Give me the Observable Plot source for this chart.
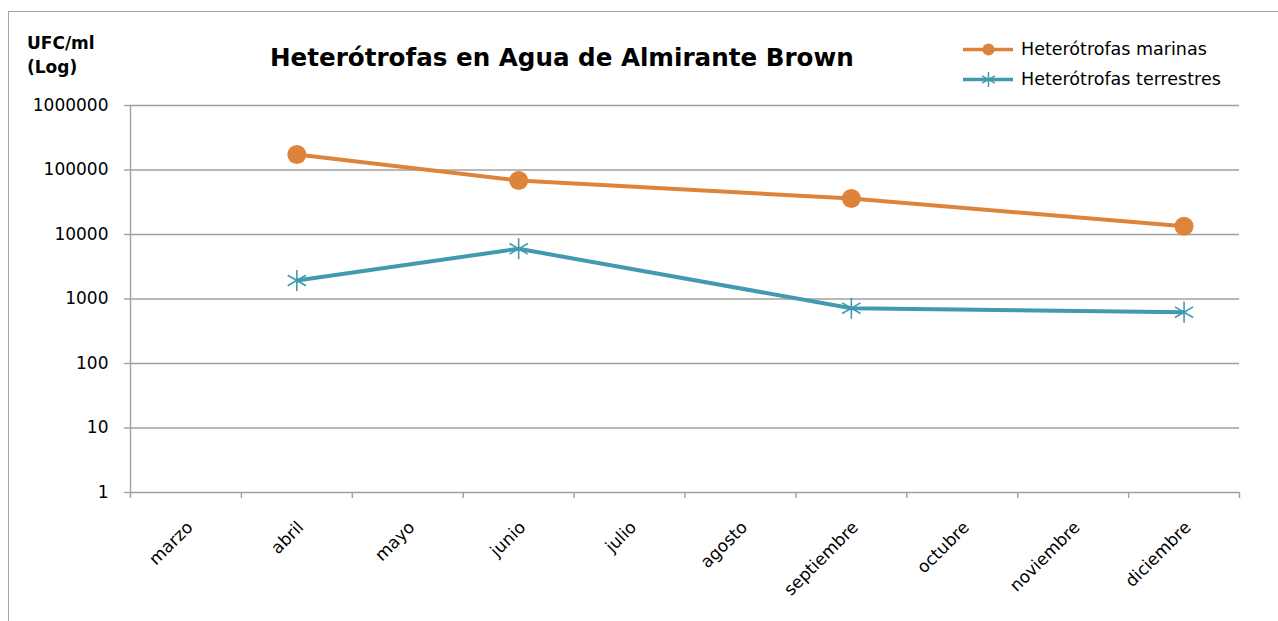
<!DOCTYPE html>
<html>
<head>
<meta charset="utf-8">
<script src="https://cdn.jsdelivr.net/npm/d3@7"></script>
<script src="https://cdn.jsdelivr.net/npm/@observablehq/plot@0.6"></script>
<style>
  html, body { margin: 0; padding: 0; background: #fff; }
  body { width: 1278px; height: 621px; overflow: hidden; position: relative; font-family: "DejaVu Sans", sans-serif; }
  #frame { position: absolute; left: 8px; top: 11px; width: 1300px; height: 700px; border-left: 1.5px solid #a6a6a6; border-top: 1.5px solid #a6a6a6; }
  #header { position: relative; height: 95px; }
  #title { position: absolute; left: 270px; top: 46px; font-size: 24.6px; font-weight: bold; white-space: nowrap; line-height: 1; color: #000; }
  #ylabel { position: absolute; left: 27px; top: 31px; font-size: 17px; font-weight: bold; line-height: 24px; color: #000; }
  #legend { position: absolute; left: 963px; top: 34px; font-size: 17.5px; color: #000; }
  .item { display: flex; align-items: center; height: 30px; white-space: nowrap; }
  .item svg { margin-right: 8px; }
  #chart { position: relative; }
</style>
</head>
<body>
<div id="frame"></div>
<div id="header">
  <div id="ylabel">UFC/ml<br>(Log)</div>
  <div id="title">Heterótrofas en Agua de Almirante Brown</div>
  <div id="legend"></div>
</div>
<div id="chart"></div>
<script>
const months = ["marzo", "abril", "mayo", "junio", "julio", "agosto", "septiembre", "octubre", "noviembre", "diciembre"];
const sampleMonths = ["abril", "junio", "septiembre", "diciembre"];
const marinasValues = [174000, 68700, 36200, 13400];
const terrestresValues = [1935, 6000, 720, 625];
const yTicks = [1, 10, 100, 1000, 10000, 100000, 1000000];
const seriesNames = ["Heterótrofas marinas", "Heterótrofas terrestres"];
const seriesColors = ["#dd843a", "#4299b0"];

const marinas = sampleMonths.map((m, i) => ({month: m, idx: months.indexOf(m), value: marinasValues[i]}));
const terrestres = sampleMonths.map((m, i) => ({month: m, idx: months.indexOf(m), value: terrestresValues[i]}));
const xDomain = [-0.5, months.length - 0.5];
const boundaries = d3.range(months.length + 1).map(i => i - 0.5);
const centers = months.map((_, i) => i);
const gray = "#a0a0a0";

const chart = Plot.plot({
  width: 1278,
  height: 526,
  marginLeft: 130,
  marginRight: 39,
  marginTop: 10,
  marginBottom: 129,
  style: {fontFamily: "DejaVu Sans, sans-serif", fontSize: "17px", color: "#000", background: "transparent", overflow: "visible"},
  x: {type: "linear", domain: xDomain},
  y: {type: "log", domain: [yTicks[0], yTicks[yTicks.length - 1]]},
  marks: [
    Plot.gridY(yTicks, {stroke: gray, strokeOpacity: 1, strokeWidth: 1.4}),
    Plot.ruleX([xDomain[0]], {stroke: gray, strokeWidth: 1.4}),
    Plot.axisY(yTicks, {tickFormat: d => String(d), tickSize: 6, tickPadding: 16, stroke: gray, strokeWidth: 1.4, label: null, fontSize: 17}),
    Plot.axisX(boundaries, {tickSize: 6, tickFormat: () => "", stroke: gray, strokeWidth: 1.4, label: null}),
    Plot.axisX(centers, {tickSize: 0, tickRotate: -45, tickPadding: 32, dx: 4, tickFormat: i => months[i], fontSize: 17, label: null}),
    Plot.line(marinas, {x: "idx", y: "value", stroke: seriesColors[0], strokeWidth: 4}),
    Plot.dot(marinas, {x: "idx", y: "value", r: 9.5, fill: seriesColors[0], stroke: "none"}),
    Plot.line(terrestres, {x: "idx", y: "value", stroke: seriesColors[1], strokeWidth: 4}),
    Plot.dot(terrestres, {x: "idx", y: "value", r: 10, symbol: "asterisk", stroke: seriesColors[1], strokeWidth: 1.6, fill: "none"})
  ]
});
document.getElementById("chart").appendChild(chart);

// legend
const legend = document.getElementById("legend");
seriesNames.forEach((name, i) => {
  const item = document.createElement("div");
  item.className = "item";
  const sw = Plot.plot({
    width: 50, height: 22, margin: 0,
    x: {domain: [0, 2], axis: null}, y: {domain: [0, 2], axis: null},
    style: {background: "transparent", overflow: "visible"},
    marks: [
      Plot.ruleY([1], {x1: 0, x2: 2, stroke: seriesColors[i], strokeWidth: 3.5}),
      i === 0
        ? Plot.dot([[1, 1]], {r: 6, fill: seriesColors[i]})
        : Plot.dot([[1, 1]], {r: 7, symbol: "asterisk", stroke: seriesColors[i], strokeWidth: 1.5})
    ]
  });
  item.appendChild(sw);
  const t = document.createElement("span");
  t.textContent = name;
  item.appendChild(t);
  legend.appendChild(item);
});
</script>
</body>
</html>
